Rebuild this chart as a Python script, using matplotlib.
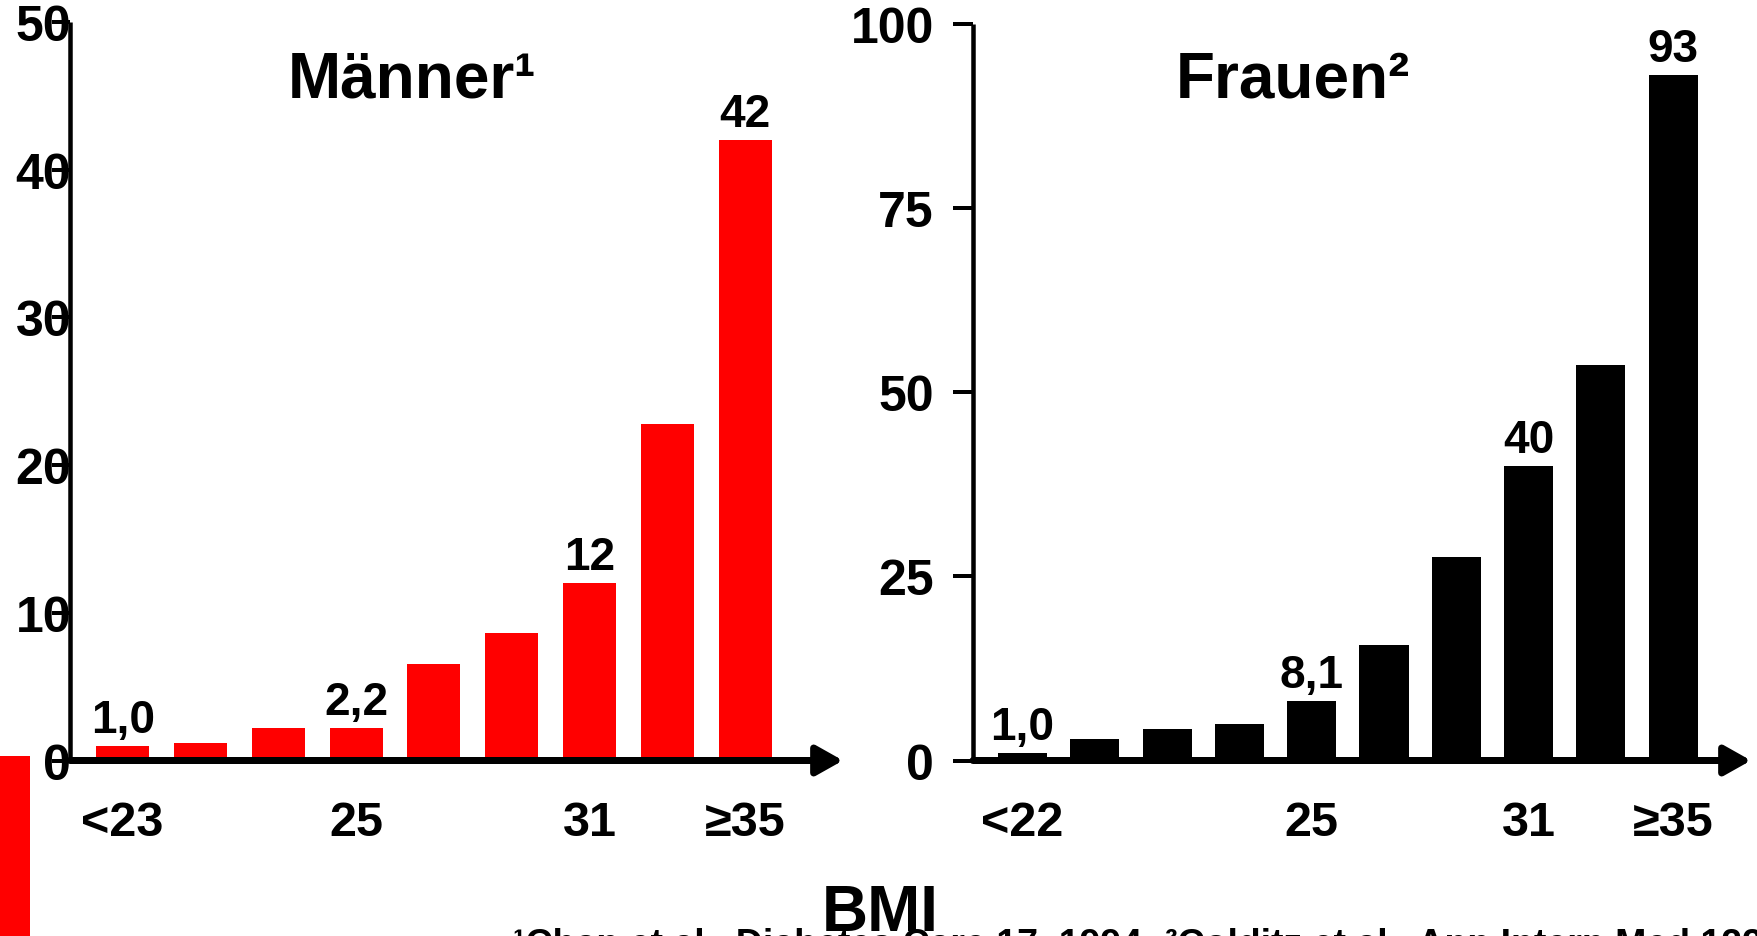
import matplotlib
matplotlib.use("Agg")
import matplotlib.pyplot as plt
from matplotlib.patches import Rectangle

plt.rcParams['font.family'] = ['Liberation Sans', 'DejaVu Sans']
plt.rcParams['font.weight'] = 'bold'

# Relative risk of type 2 diabetes by BMI class
men_values = [1.0, 1.2, 2.2, 2.2, 6.5, 8.6, 12, 22.8, 42]
men_labeled = [0, 3, 6, 8]
men_tick_pos = [0, 3, 6, 8]
men_tick_labels = ["<23", "25", "31", "≥35"]
men_yticks = [0, 10, 20, 30, 40, 50]

women_values = [1.0, 2.9, 4.3, 4.9, 8.1, 15.7, 27.6, 40, 53.7, 93]
women_labeled = [0, 4, 7, 9]
women_tick_pos = [0, 4, 7, 9]
women_tick_labels = ["<22", "25", "31", "≥35"]
women_yticks = [0, 25, 50, 75, 100]

W, H, DPI = 1758, 937, 100
PT = 72 / DPI  # points per pixel

fig = plt.figure(figsize=(W / DPI, H / DPI), dpi=DPI)
fig.patch.set_facecolor("white")


def px_axes(left, right, bottom, top):
    return fig.add_axes([left / W, 1 - bottom / H, (right - left) / W, (bottom - top) / H])


def fmt(v):
    if v >= 10:
        return f"{v:.0f}"
    return f"{v:.1f}".replace(".", ",")


def panel(ax, values, labeled, tick_pos, tick_labels, yticks, ymax, xlim, color,
          tick_len, tick_pad, ylab_size):
    xs = list(range(len(values)))
    ax.bar(xs, values, width=0.68, color=color, zorder=2)
    ax.set_xlim(*xlim)
    ax.set_ylim(0, ymax)
    for s in ("top", "right", "bottom"):
        ax.spines[s].set_visible(False)
    ax.spines["left"].set_linewidth(4.5 * PT)
    ax.spines["left"].set_capstyle("butt")
    ax.set_yticks(yticks)
    ax.tick_params(axis="y", length=tick_len * PT, width=4 * PT, pad=tick_pad * PT,
                   labelsize=ylab_size, direction="out")
    ax.set_xticks(tick_pos, tick_labels)
    ax.tick_params(axis="x", length=0, pad=40 * PT, labelsize=35)
    # horizontal axis with arrow head
    ax.annotate("", xy=(1.0, 0), xytext=(0.0, 0),
                xycoords=("axes fraction", "data"), textcoords=("axes fraction", "data"),
                arrowprops=dict(arrowstyle="-|>,head_length=0.8,head_width=0.45",
                                mutation_scale=20, lw=7 * PT, color="black",
                                shrinkA=0, shrinkB=0),
                annotation_clip=False, zorder=3)
    for i in labeled:
        ax.annotate(fmt(values[i]), xy=(i, values[i]), xytext=(0, 14 * PT),
                    textcoords="offset points", ha="center", va="baseline",
                    fontsize=33, fontweight="bold", annotation_clip=False)


ax_m = px_axes(70, 843, 761.5, 23)
panel(ax_m, men_values, men_labeled, men_tick_pos, men_tick_labels, men_yticks, 50,
      (-0.677, 9.258), "#ff0000", 18, -19, 36)

ax_w = px_axes(973, 1751, 761.5, 24.7)
panel(ax_w, women_values, women_labeled, women_tick_pos, women_tick_labels, women_yticks, 100,
      (-0.685, 10.076), "black", 20, 19, 36)

# panel titles
fig.text(412 / W, 1 - 98 / H, "Männer¹", ha="center", va="baseline", fontsize=46, fontweight="bold")
fig.text(1293 / W, 1 - 98 / H, "Frauen²", ha="center", va="baseline", fontsize=46, fontweight="bold")

# shared x-axis title and source note
fig.text(880 / W, 1 - 931 / H, "BMI", ha="center", va="baseline", fontsize=46, fontweight="bold")
fig.text(513 / W, 1 - 956 / H, "¹Chan et al., Diabetes Care 17, 1994; ²Colditz et al., Ann Intern Med 122, 1995",
         ha="left", va="baseline", fontsize=27, fontweight="bold")

# red marker strip at the lower left edge
fig.patches.append(Rectangle((0, 0), 30 / W, (937 - 757) / H, transform=fig.transFigure,
                             facecolor="#ff0000", edgecolor="none"))

fig.savefig("out.png", dpi=DPI, facecolor="white")
